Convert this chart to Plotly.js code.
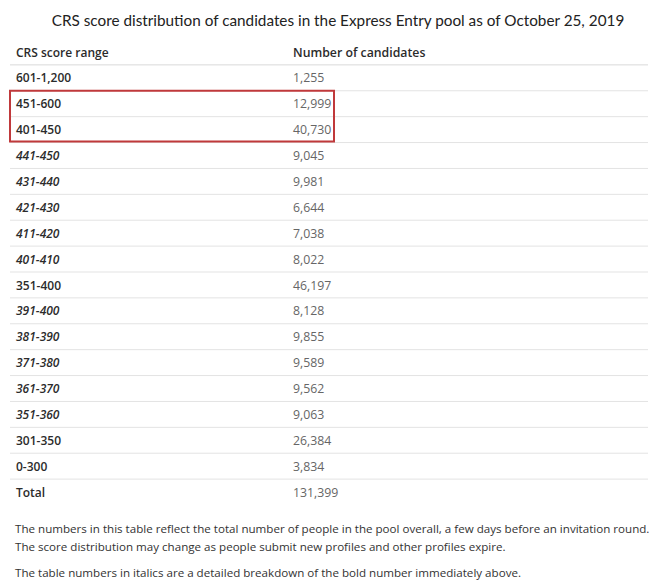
<!DOCTYPE html>
<html>
<head>
<meta charset="utf-8">
<script src="https://cdn.plot.ly/plotly-3.0.1.min.js"></script>
<style>html,body{margin:0;padding:0;background:#fff;}#chart{width:650px;height:583px;}</style>
</head>
<body>
<div id="chart"></div>
<script>
// ---- data ----
const headers = ["CRS score range", "Number of candidates"];
const ranges = ["601-1,200","451-600","401-450","441-450","431-440","421-430","411-420","401-410",
                "351-400","391-400","381-390","371-380","361-370","351-360","301-350","0-300","Total"];
const counts = [1255,12999,40730,9045,9981,6644,7038,8022,46197,8128,9855,9589,9562,9063,26384,3834,131399];
const italicRows = [false,false,false,true,true,true,true,true,false,true,true,true,true,true,false,false,false];
const highlightedRows = ["451-600","401-450"];
const notes = [
  "The numbers in this table reflect the total number of people in the pool overall, a few days before an invitation round.",
  "The score distribution may change as people submit new profiles and other profiles expire.",
  "The table numbers in italics are a detailed breakdown of the bold number immediately above."
];
const titleText = "CRS score distribution of candidates in the Express Entry pool as of October 25, 2019";

// ---- layout constants ----
const W = 650, H = 583;
const col1X = 16, col2X = 293;
const textShift = 0.06; // small vertical nudge of row text (in row units)
const FONT = "Open Sans, sans-serif";

const fmt = n => n.toLocaleString("en-US");
const rowIdx = ranges.map((_, i) => i + 1);

const labelText = [headers[0]].concat(
  ranges.map((r, i) => italicRows[i] ? "<i>" + r + "</i>" : r));
const numText = [headers[1]].concat(counts.map(fmt));
const allY = [0].concat(rowIdx);
const textY = allY.map(v => v + textShift);

const traces = [
  {
    type: "scatter", mode: "text",
    x: allY.map(() => col1X), y: textY, text: labelText,
    textposition: "middle right",
    textfont: {family: FONT, size: 12, color: "#2b2b2b", weight: 600},
    hoverinfo: "skip", showlegend: false, cliponaxis: false
  },
  {
    type: "scatter", mode: "text",
    x: allY.map(() => col2X), y: textY, text: numText,
    textposition: "middle right",
    textfont: {family: FONT, size: 12.3,
               color: allY.map(i => i === 0 ? "#2b2b2b" : "#666"),
               weight: allY.map(i => i === 0 ? 600 : 400)},
    hoverinfo: "skip", showlegend: false, cliponaxis: false
  }
];

const shapes = [];
for (let i = 0; i < ranges.length; i++) {
  shapes.push({
    type: "line", xref: "x", yref: "y",
    x0: 10, x1: 648, y0: i + 0.5, y1: i + 0.5,
    line: {color: i === 0 ? "#d9d9d9" : "#e3e3e3", width: 1}
  });
}
const hi = highlightedRows.map(r => ranges.indexOf(r) + 1);
shapes.push({
  type: "rect", xref: "x", yref: "y",
  x0: 10, x1: 334, y0: Math.min(...hi) - 0.5, y1: Math.max(...hi) + 0.46,
  line: {color: "#c0393b", width: 2}, fillcolor: "rgba(0,0,0,0)"
});

const nRows = ranges.length + 1;
const topM = 39, plotH = 466;
const bottomM = H - topM - plotH;

const noteY = [528, 546, 572];
const annotations = notes.map((t, i) => ({
  text: t, xref: "paper", yref: "paper",
  x: 13 / W, y: -(noteY[i] - (topM + plotH)) / plotH,
  xanchor: "left", yanchor: "middle", showarrow: false,
  font: {family: FONT, size: 11.6, color: "#333"}
}));

const layout = {
  width: W, height: H,
  margin: {l: 0, r: 0, t: topM, b: bottomM, pad: 0},
  paper_bgcolor: "#fff", plot_bgcolor: "#fff",
  title: {text: titleText, x: 338 / W, xanchor: "center", y: 1 - 21 / H, yanchor: "middle",
          yref: "container", font: {family: "Lato, sans-serif", size: 15.3, color: "#222"}},
  xaxis: {range: [0, W], visible: false, fixedrange: true},
  yaxis: {range: [nRows - 0.5, -0.5], visible: false, fixedrange: true},
  shapes: shapes,
  annotations: annotations
};

Plotly.newPlot("chart", traces, layout, {displayModeBar: false, staticPlot: true});
</script>
</body>
</html>
